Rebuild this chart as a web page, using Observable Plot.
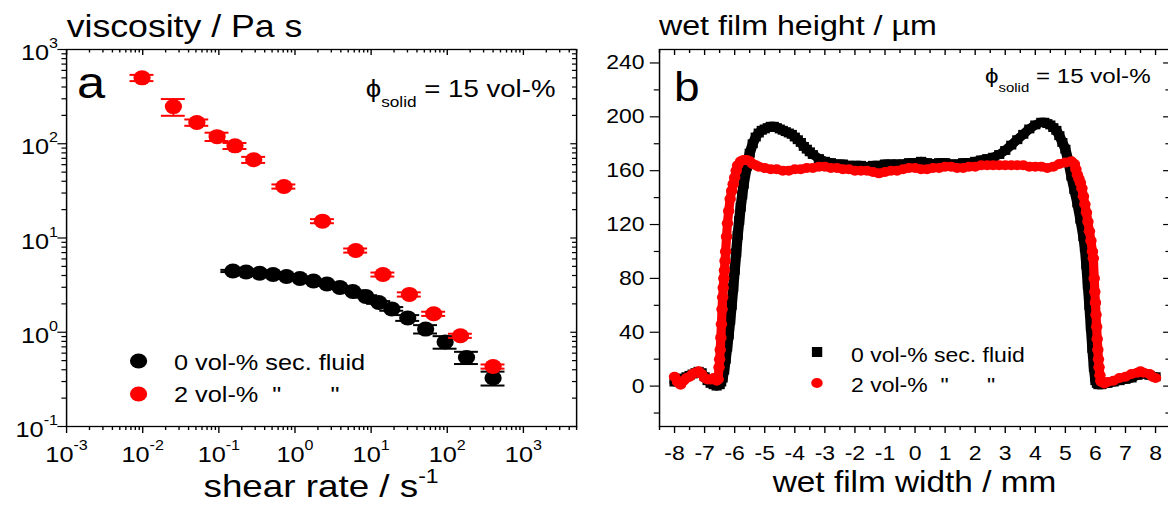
<!DOCTYPE html>
<html><head><meta charset="utf-8">
<script src="https://cdn.jsdelivr.net/npm/d3@7"></script>
<script src="https://cdn.jsdelivr.net/npm/@observablehq/plot@0.6"></script>
<style>
html,body{margin:0;padding:0;background:#fff;overflow:hidden;width:1168px;height:506px;}
#stage{position:absolute;left:0;top:0;width:1016px;height:506px;transform:scaleX(1.15);transform-origin:0 0;}
#stage svg{position:absolute;top:0;}
</style></head><body><div id="stage"></div>
<script>
// ---------- Panel a: viscosity vs shear rate ----------
const shearRed  = [0.0098, 0.0253, 0.0514, 0.0948, 0.163, 0.287, 0.716, 2.30, 6.28, 14.3, 31.8, 66.4, 149, 400];
const viscRed   = [500, 248, 168, 119, 95, 67.6, 35.2, 15.1, 7.37, 4.10, 2.52, 1.57, 0.918, 0.433];
const errRed    = [38, 50, 13, 12, 7, 5, 1.8, 0.75, 0.37, 0.2, 0.13, 0.08, 0.046, 0.022];
const shearBlack = [0.153, 0.228, 0.343, 0.515, 0.774, 1.16, 1.75, 2.63, 3.89, 5.75, 8.51, 12.6, 18.7, 30.3, 52.0, 93.8, 179, 400];
const viscBlack  = [4.47, 4.36, 4.23, 4.10, 3.91, 3.72, 3.50, 3.25, 2.98, 2.71, 2.40, 2.07, 1.77, 1.42, 1.08, 0.789, 0.540, 0.327];
const errBlack   = [0.12, 0.1, 0.1, 0.1, 0.09, 0.09, 0.08, 0.08, 0.07, 0.07, 0.07, 0.07, 0.08, 0.1, 0.11, 0.12, 0.08, 0.055];
const xMajorA = [1e-3, 1e-2, 1e-1, 1, 10, 100, 1000];
const yMajorA = [0.1, 1, 10, 100, 1000];

// ---------- Panel b: wet film height profile ----------
const widthBlack = [-8.0,-7.9,-7.8,-7.7,-7.6,-7.5,-7.4,-7.3,-7.2,-7.1,-7.0,-6.9,-6.8,-6.7,-6.6,-6.5,-6.45,-6.4,-6.35,-6.3,-6.25,-6.2,-6.15,-6.1,-6.05,-6.0,-5.95,-5.9,-5.85,-5.8,-5.75,-5.7,-5.6,-5.5,-5.4,-5.3,-5.2,-5.1,-5.0,-4.9,-4.8,-4.7,-4.6,-4.5,-4.4,-4.3,-4.2,-4.1,-4.0,-3.9,-3.8,-3.7,-3.6,-3.5,-3.4,-3.2,-3.0,-2.8,-2.6,-2.4,-2.2,-2.0,-1.8,-1.6,-1.4,-1.2,-1.0,-0.8,-0.6,-0.4,-0.2,0.0,0.2,0.4,0.6,0.8,1.0,1.2,1.4,1.6,1.8,2.0,2.2,2.4,2.6,2.8,3.0,3.2,3.4,3.6,3.8,4.0,4.2,4.3,4.4,4.5,4.6,4.7,4.8,4.9,5.0,5.1,5.2,5.3,5.4,5.5,5.6,5.65,5.7,5.75,5.8,5.85,5.9,5.95,6.0,6.05,6.1,6.2,6.4,6.6,6.8,7.0,7.2,7.4,7.6,7.8,8.0];
const heightBlack = [3,5,4,6,7,8,9,10,11,10,7,4,2,1,0,1,3,6,12,20,29,38,49,60,73,86,99,112,123,133,142,150,163,173,180,185,188,190,191,192,193,193,192,191,190,189,188,187,185,183,181,178,176,174,172,169,167,166,165,165,164,164,164,163,164,164,165,165,165,165,166,166,167,166,165,166,166,165,165,166,166,167,168,169,170,172,175,179,183,187,191,194,196,196,195,194,192,190,186,181,176,167,156,146,136,124,111,103,90,75,60,44,28,14,4,2,1,1,2,3,4,5,6,8,9,8,7];
const widthRed = [-8.0,-7.9,-7.8,-7.7,-7.6,-7.5,-7.4,-7.3,-7.2,-7.1,-7.0,-6.9,-6.8,-6.7,-6.6,-6.55,-6.52,-6.5,-6.48,-6.46,-6.44,-6.42,-6.4,-6.38,-6.36,-6.34,-6.32,-6.3,-6.27,-6.24,-6.2,-6.15,-6.1,-6.05,-6.0,-5.95,-5.9,-5.8,-5.7,-5.6,-5.5,-5.4,-5.3,-5.2,-5.0,-4.8,-4.6,-4.4,-4.2,-4.0,-3.8,-3.6,-3.4,-3.2,-3.0,-2.8,-2.6,-2.4,-2.2,-2.0,-1.8,-1.6,-1.4,-1.2,-1.0,-0.8,-0.6,-0.4,-0.2,0.0,0.2,0.4,0.6,0.8,1.0,1.2,1.4,1.6,1.8,2.0,2.2,2.4,2.6,2.8,3.0,3.2,3.4,3.6,3.8,4.0,4.2,4.4,4.6,4.8,5.0,5.2,5.3,5.35,5.4,5.45,5.5,5.55,5.6,5.65,5.7,5.75,5.8,5.85,5.9,5.93,5.96,5.98,6.0,6.02,6.04,6.06,6.08,6.1,6.12,6.15,6.18,6.2,6.3,6.4,6.6,6.8,7.0,7.2,7.4,7.5,7.6,7.8,7.9,8.0];
const heightRed = [7,3,1,4,6,7,9,10,11,9,6,5,5,6,4,5,14,20,27,36,46,57,66,73,80,86,93,100,111,121,130,139,145,150,155,160,164,167,168,168,167,165,164,163,162,161,161,160,160,161,161,162,162,163,163,162,162,161,161,160,160,160,159,158,159,160,160,161,162,162,161,161,162,162,163,163,162,162,163,163,164,164,164,164,164,164,164,164,163,163,163,162,163,165,166,167,165,161,157,154,151,147,141,135,129,122,115,108,100,95,80,70,62,53,44,35,27,20,14,8,4,3,2,3,4,6,7,9,10,11,10,9,7,6];
const xMajorB = [-8,-7,-6,-5,-4,-3,-2,-1,0,1,2,3,4,5,6,7,8];
const yMajorB = [0, 40, 80, 120, 160, 200, 240];

// ---------- layout ----------
const font = '"Liberation Sans", Arial, Helvetica, sans-serif';
const H = 506, MT = 49, MB = 80, plotH = H - MT - MB;
const aW = 520, aML = 57.4, aMR = aW - 500.9, aPlotW = aW - aML - aMR;
const bX0 = 520, bW = 500, bML = 53, bMR = bW - (1017.4 - bX0), bPlotW = bW - bML - bMR;
const capF = 1.436;

const decadeMinor = (lo, hi) => { const out = []; for (let e = lo; e <= hi; e++) for (let m = 2; m <= 9; m++) out.push(m * Math.pow(10, e)); return out; };
const xMinorA = decadeMinor(-3, 3).filter(v => v <= 5000);
const yMinorA = decadeMinor(-1, 2);
const xMinorB = d3.range(-8.5, 8.6, 1);
const yMinorB = d3.range(-20, 241, 40);

const redA = shearRed.map((x, i) => ({x, y: viscRed[i], e: errRed[i]}));
const blackA = shearBlack.map((x, i) => ({x, y: viscBlack[i], e: errBlack[i]}));
const redB = widthRed.map((x, i) => ({x, y: heightRed[i]}));
const blackB = widthBlack.map((x, i) => ({x, y: heightBlack[i]}));

const fmtLog = d => "10^" + Math.round(Math.log10(d));
const blank = () => "";

function errMarks(data, color) {
  return [
    Plot.ruleX(data, {x: "x", y1: d => d.y - d.e, y2: d => d.y + d.e, stroke: color, strokeWidth: 1.5}),
    Plot.ruleY(data, {y: d => d.y - d.e, x1: d => d.x / capF, x2: d => d.x * capF, stroke: color, strokeWidth: 2}),
    Plot.ruleY(data, {y: d => d.y + d.e, x1: d => d.x / capF, x2: d => d.x * capF, stroke: color, strokeWidth: 2}),
    Plot.dot(data, {x: "x", y: "y", r: 7.5, fill: color})
  ];
}

const svgA = Plot.plot({
  width: aW, height: H, marginLeft: aML, marginRight: aMR, marginTop: MT, marginBottom: MB,
  x: {type: "log", domain: [1e-3, 5e3]},
  y: {type: "log", domain: [0.1, 1000]},
  style: {fontFamily: font, fontSize: "22px", color: "#000", background: "transparent", overflow: "visible"},
  marks: [
    ...errMarks(blackA, "#000"),
    ...errMarks(redA, "#ff0000"),
    Plot.frame({stroke: "#000", strokeWidth: 1.3}),
    Plot.axisX(xMajorA, {tickFormat: fmtLog, tickSize: 7, tickPadding: 13, label: null, strokeWidth: 1.2}),
    Plot.axisX(xMinorA, {tickFormat: blank, tickSize: 4, label: null, strokeWidth: 1.2}),
    Plot.axisY(yMajorA, {tickFormat: fmtLog, tickSize: 7.5, tickPadding: 0, label: null, strokeWidth: 1.2}),
    Plot.axisY(yMinorA, {tickFormat: blank, tickSize: 4, label: null, strokeWidth: 1.2}),
    Plot.tickX(xMajorA, {insetBottom: plotH - 6, stroke: "#000", strokeWidth: 1.2}),
    Plot.tickX(xMinorA, {insetBottom: plotH - 3.5, stroke: "#000", strokeWidth: 1.2}),
    Plot.tickY(yMajorA, {insetLeft: aPlotW - 5, stroke: "#000", strokeWidth: 1.2}),
    Plot.tickY(yMinorA, {insetLeft: aPlotW - 3.5, stroke: "#000", strokeWidth: 1.2})
  ]
});

const svgB = Plot.plot({
  width: bW, height: H, marginLeft: bML, marginRight: bMR, marginTop: MT, marginBottom: MB,
  x: {domain: [-8.5, 8.5]},
  y: {domain: [-30, 250]},
  style: {fontFamily: font, fontSize: "20px", color: "#000", background: "transparent", overflow: "visible"},
  marks: [
    Plot.line(blackB, {x: "x", y: "y", stroke: "#000", strokeWidth: 9}),
    Plot.dot(blackB, {x: "x", y: "y", symbol: "square", r: 5, fill: "#000"}),
    Plot.line(redB, {x: "x", y: "y", stroke: "#ff0000", strokeWidth: 8}),
    Plot.dot(redB, {x: "x", y: "y", r: 5, fill: "#ff0000"}),
    Plot.frame({stroke: "#000", strokeWidth: 1.3}),
    Plot.axisX(xMajorB, {tickFormat: d => String(d), tickSize: 7, tickPadding: 12, label: null, strokeWidth: 1.2}),
    Plot.axisX(xMinorB, {tickFormat: blank, tickSize: 4, label: null, strokeWidth: 1.2}),
    Plot.axisY(yMajorB, {tickFormat: d => String(d), tickSize: 8, tickPadding: 5, label: null, strokeWidth: 1.2}),
    Plot.axisY(yMinorB, {tickFormat: blank, tickSize: 4.5, label: null, strokeWidth: 1.2}),
    Plot.tickX(xMajorB, {insetBottom: plotH - 6, stroke: "#000", strokeWidth: 1.2}),
    Plot.tickX(xMinorB, {insetBottom: plotH - 4, stroke: "#000", strokeWidth: 1.2}),
    Plot.tickY(yMajorB, {insetLeft: bPlotW - 6, stroke: "#000", strokeWidth: 1.2}),
    Plot.tickY(yMinorB, {insetLeft: bPlotW - 4, stroke: "#000", strokeWidth: 1.2})
  ]
});

// superscripts on log tick labels
const NS = "http://www.w3.org/2000/svg";
svgA.querySelectorAll("text").forEach(t => {
  const s = t.textContent;
  if (!s.includes("^")) return;
  const [base, exp] = s.split("^");
  const isY = !!t.closest('[aria-label="y-axis tick label"]');
  t.textContent = "";
  const a = document.createElementNS(NS, "tspan");
  a.textContent = base;
  if (isY) a.setAttribute("dy", "3.5");
  const b = document.createElementNS(NS, "tspan");
  b.textContent = exp;
  b.setAttribute("dy", "-12");
  b.style.fontSize = "14px";
  t.append(a, b);
});

const stage = document.getElementById("stage");
svgA.style.left = "0px";
svgB.style.left = bX0 + "px";
stage.append(svgA, svgB);

// ---------- annotations (titles, labels, legends) ----------
const ov = d3.select(stage).append("svg")
  .attr("width", 1016).attr("height", H)
  .style("left", "0px").style("font-family", font).attr("fill", "#000");

function label(x, y, size, parts, anchor = "start") {
  const t = ov.append("text").attr("x", x).attr("y", y).attr("font-size", size).attr("text-anchor", anchor).style("white-space", "pre");
  parts.forEach(p => {
    const ts = t.append("tspan").text(p.t);
    if (p.size) ts.attr("font-size", p.size);
    if (p.dy) ts.attr("dy", p.dy);
  });
  return t;
}

label(58, 37, 31, [{t: "viscosity / Pa s"}]);
label(573, 35, 28, [{t: "wet film height / µm"}]);
label(279.2, 497, 32, [{t: "shear rate / s"}, {t: "-1", size: 20, dy: -14}], "middle");
label(795.2, 492, 29, [{t: "wet film width / mm"}], "middle");
label(67, 98, 44, [{t: "a"}]);
label(586, 101, 40, [{t: "b"}]);
label(318, 97, 24, [{t: "ϕ"}, {t: "solid", size: 15, dy: 10}, {t: " = 15 vol-%", dy: -10}]);
label(856.5, 83, 21, [{t: "ϕ"}, {t: "solid", size: 13, dy: 9}, {t: " = 15 vol-%", dy: -9}]);

// legend panel a
ov.append("ellipse").attr("cx", 120.5).attr("cy", 361).attr("rx", 7.5).attr("ry", 7.5).attr("fill", "#000");
ov.append("ellipse").attr("cx", 120.5).attr("cy", 394).attr("rx", 7.5).attr("ry", 7.5).attr("fill", "#ff0000");
label(151.3, 370, 22, [{t: "0 vol-% sec. fluid"}]);
label(151.3, 402, 22, [{t: "2 vol-%  \"       \""}]);

// legend panel b
ov.append("rect").attr("x", 706).attr("y", 347).attr("width", 9).attr("height", 10).attr("fill", "#000");
ov.append("circle").attr("cx", 710.4).attr("cy", 383).attr("r", 5).attr("fill", "#ff0000");
label(740, 361.7, 20, [{t: "0 vol-% sec. fluid"}]);
label(740, 391.7, 20, [{t: "2 vol-%  \"      \""}]);
</script>
</body></html>
